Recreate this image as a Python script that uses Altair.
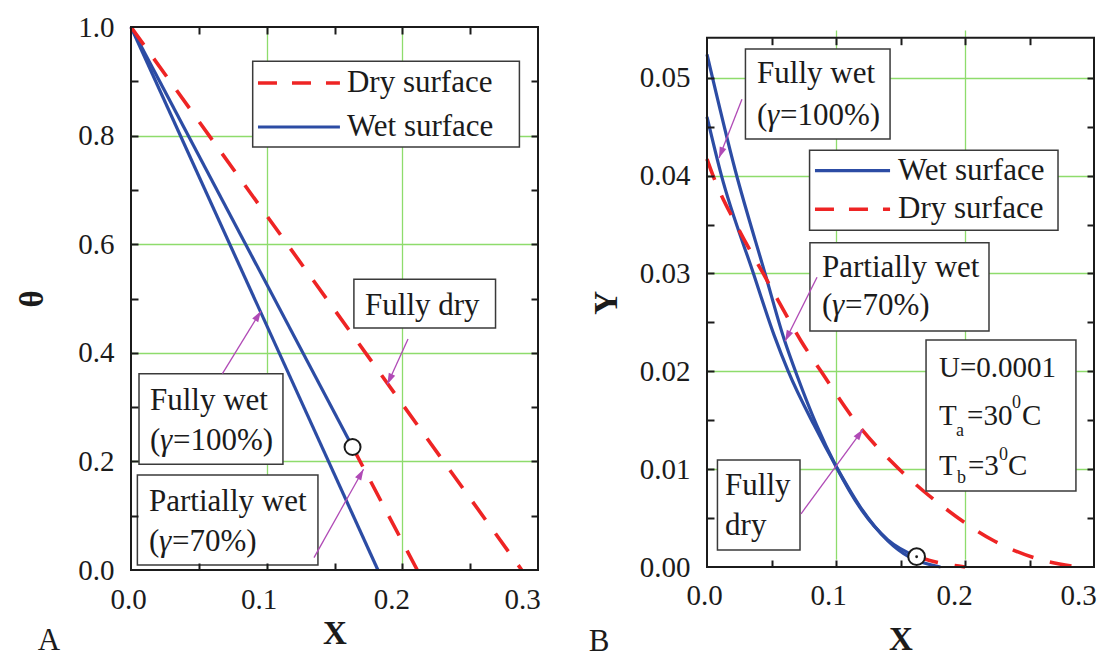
import math
import altair as alt
import pandas as pd

SERIF = "Liberation Serif"
INK = "#1b1b1b"
BLUE = "#2c4ca4"
RED = "#ee2424"
GREEN = "#8edc6c"
MAG = "#b04ab6"
BOX = "#3a3a3a"
HEAD = "M0,0L0.32,1L-0.32,1Z"

VIEW_W, VIEW_H = 963, 543

# ---------------- Panel A : theta vs X ----------------
A_wet_full_x = [0.0, 0.182]
A_wet_full_y = [1.0, 0.0]
A_wet_part_x = [0.0, 0.1633]
A_wet_part_y = [1.0, 0.2265]
A_dry_full_x = [0.0, 0.288]
A_dry_full_y = [1.0, 0.0]
A_dry_part_x = [0.1633, 0.211]
A_dry_part_y = [0.2265, 0.0]
A_mark_x = [0.1633]
A_mark_y = [0.2265]

A_x_labels = [0.0, 0.1, 0.2, 0.3]
A_y_labels = [0.0, 0.2, 0.4, 0.6, 0.8, 1.0]
A_x_grid = [0.1, 0.2]
A_y_grid = [0.2, 0.4, 0.6, 0.8]
A_x_ticks = [0.05, 0.1, 0.15, 0.2, 0.25]
A_y_ticks = [0.1, 0.2, 0.3, 0.4, 0.5, 0.6, 0.7, 0.8, 0.9]

A_box_x1 = [0.0897, 0.1643, 0.0059, 0.0047]
A_box_x2 = [0.2863, 0.2687, 0.1120, 0.1378]
A_box_y1 = [0.7790, 0.4457, 0.1947, 0.0092]
A_box_y2 = [0.9368, 0.5354, 0.3615, 0.1750]

A_text = ["Dry surface", "Wet surface", "Fully dry", "Fully wet", "Partially wet"]
A_text_x = [0.1592, 0.1592, 0.1725, 0.0140, 0.0133]
A_text_y = [0.8969, 0.8158, 0.4862, 0.3112, 0.1258]
# "(γ=...)" lines: gamma set in italics
A_gam_rest = ["=100%)", "=70%)"]
A_gam_x = [0.0140, 0.0133]
A_gam_y = [0.2376, 0.0521]

A_leg_x1 = [0.0936]
A_leg_x2 = [0.1540]
A_leg_dry_y = [0.8969]
A_leg_wet_y = [0.8158]

A_arrow_x0 = [0.2042, 0.0674, 0.1349]
A_arrow_y0 = [0.4254, 0.3615, 0.0227]
A_arrow_x1 = [0.1890, 0.0958, 0.1714]
A_arrow_y1 = [0.3420, 0.4770, 0.1855]

# ---------------- Panel B : Y vs X ----------------
B_wet_full_x = [0.0, 0.011, 0.036, 0.052, 0.063, 0.083, 0.100, 0.119, 0.140, 0.157, 0.181]
B_wet_full_y = [0.0460, 0.0401, 0.0300, 0.0237, 0.0200, 0.0145, 0.0103, 0.0061, 0.0027, 0.0010, 0.0]
B_wet_part_x = [0.0, 0.022, 0.045, 0.060, 0.070, 0.085, 0.100, 0.120, 0.140, 0.1625]
B_wet_part_y = [0.0524, 0.0405, 0.0300, 0.0232, 0.0195, 0.0145, 0.0103, 0.0058, 0.0028, 0.00105]
B_dry_full_x = [0.0, 0.0044, 0.0238, 0.044, 0.0553, 0.0729, 0.0884, 0.1168, 0.1478, 0.184,
                0.2227, 0.2535, 0.288]
B_dry_full_y = [0.0417, 0.0401, 0.0347, 0.0299, 0.0272, 0.0231, 0.0200, 0.01458, 0.01015,
                0.00606, 0.00266, 0.00095, 0.0]
B_dry_part_x = [0.1625, 0.172, 0.185, 0.200]
B_dry_part_y = [0.00105, 0.0007, 0.0003, 0.0]
B_mark_x = [0.1625]
B_mark_y = [0.00105]

B_x_labels = [0.0, 0.1, 0.2, 0.3]
B_y_labels = [0.0, 0.01, 0.02, 0.03, 0.04, 0.05]
B_x_grid = [0.1, 0.2]
B_y_grid = [0.01, 0.02, 0.03, 0.04, 0.05]
B_x_ticks = [0.05, 0.1, 0.15, 0.2, 0.25]
B_y_ticks = [0.005, 0.01, 0.015, 0.02, 0.025, 0.03, 0.035, 0.04, 0.045, 0.05]

B_box_x1 = [0.0298, 0.0795, 0.0798, 0.1698, 0.0081]
B_box_x2 = [0.1419, 0.2721, 0.2186, 0.2860, 0.0721]
B_box_y1 = [0.04375, 0.03442, 0.02411, 0.00776, 0.00174]
B_box_y2 = [0.05294, 0.04259, 0.03313, 0.02319, 0.01093]

B_text = ["Fully wet", "Wet surface", "Dry surface", "Partially wet", "Fully", "dry"]
B_text_x = [0.0388, 0.1481, 0.1481, 0.0891, 0.0140, 0.0140]
B_text_y = [0.05036, 0.04052, 0.03657, 0.03057, 0.00827, 0.00419]
B_gam_rest = ["=100%)", "=70%)"]
B_gam_x = [0.0388, 0.0891]
B_gam_y = [0.04607, 0.02666]

B_par_text = ["U=0.0001", "T", "=30", "C", "T", "=3", "C"]
B_par_x = [0.1798, 0.1798, 0.2016, 0.2442, 0.1798, 0.2023, 0.2333]
B_par_y = [0.02036, 0.01542, 0.01542, 0.01542, 0.01032, 0.01032, 0.01032]
B_sub_text = ["a", "0", "b", "0"]
B_sub_x = [0.1930, 0.2364, 0.1938, 0.2264]
B_sub_y = [0.01389, 0.01678, 0.00912, 0.01144]

B_leg_x1 = [0.0837]
B_leg_x2 = [0.1419]
B_leg_wet_y = [0.04052]
B_leg_dry_y = [0.03657]

B_arrow_x0 = [0.0271, 0.0853, 0.0729]
B_arrow_y0 = [0.0478, 0.02962, 0.00544]
B_arrow_x1 = [0.0093, 0.0605, 0.1209]
B_arrow_y1 = [0.0418, 0.02308, 0.01407]


def line_df(pairs):
    rows = []
    for name, xs_, ys_ in pairs:
        for i, (a, b) in enumerate(zip(xs_, ys_)):
            rows.append({"series": name, "i": i, "x": a, "y": b})
    return pd.DataFrame(rows)


def box_df(x1, x2, y1, y2):
    return pd.DataFrame({"x1": x1, "x2": x2, "y1": y1, "y2": y2})


def label_offset():
    return {"condition": [
        {"test": "datum.value > 0.25", "value": -16},
        {"test": "datum.value > 0.15", "value": -11},
        {"test": "datum.value > 0.05", "value": -8}],
        "value": -3}


def panel_layers(c):
    xdom, ydom, xr, yr = c["xdom"], c["ydom"], c["xrange"], c["yrange"]
    xs = alt.Scale(domain=xdom, range=xr, nice=False, zero=False)
    ys = alt.Scale(domain=ydom, range=yr, nice=False, zero=False)
    off_b = yr[0] - VIEW_H
    off_t = -yr[1]
    off_l = -xr[0]
    off_r = xr[1] - VIEW_W

    def ex(f, axis=None):
        return alt.X(f, type="quantitative", scale=xs, axis=axis)

    def ey(f, axis=None):
        return alt.Y(f, type="quantitative", scale=ys, axis=axis)

    def inward(orient, values, off):
        return alt.Axis(orient=orient, values=values, labels=False, domain=False,
                        grid=False, ticks=True, tickSize=7, tickWidth=2, tickColor=INK,
                        offset=off - 7, minExtent=0, title=None, zindex=1)

    ax_main_x = alt.Axis(orient="bottom", offset=off_b, values=c["x_labels"], format=".1f",
                         labelFont=SERIF, labelFontSize=29, labelColor=INK,
                         labelPadding=c["xlab_pad"], labelFlush=False, labelOverlap=False,
                         labelOffset=label_offset(),
                         ticks=False, tickSize=0, domain=False, grid=False,
                         title="X", titleFont=SERIF, titleFontSize=33, titleFontWeight="bold",
                         titleColor=INK, titleBaseline="middle", titleY=c["xtitle_y"])
    ax_main_y = alt.Axis(orient="left", offset=off_l, values=c["y_labels"], format=c["yfmt"],
                         labelFont=SERIF, labelFontSize=29, labelColor=INK,
                         labelPadding=17, labelOverlap=False,
                         ticks=False, tickSize=0, domain=False, grid=False,
                         title=c["ytitle"], titleFont=SERIF, titleFontSize=33,
                         titleFontWeight="bold", titleColor=INK, titleAngle=270,
                         titleBaseline="middle", titleX=c["ytitle_x"])
    ax_grid_x = alt.Axis(orient="bottom", values=c["x_grid"], grid=True, gridColor=GREEN,
                         gridWidth=1.3, labels=False, ticks=False, domain=False, title=None)
    ax_grid_y = alt.Axis(orient="left", values=c["y_grid"], grid=True, gridColor=GREEN,
                         gridWidth=1.3, labels=False, ticks=False, domain=False, title=None)

    wet = alt.Chart(c["wet"]).mark_line(color=BLUE, strokeWidth=3.2, interpolate=c["interp"]).encode(
        x=ex("x", ax_main_x), y=ey("y", ax_main_y), detail="series:N", order="i:Q")
    dry = alt.Chart(c["dry"]).mark_line(color=RED, strokeWidth=3.6, strokeDash=[22, 17],
                                        interpolate=c["interp"]).encode(
        x=ex("x", ax_grid_x), y=ey("y", ax_grid_y), detail="series:N", order="i:Q")

    boxes = alt.Chart(c["boxes"]).mark_rect(fill="white", stroke=BOX, strokeWidth=1.5).encode(
        x=ex("x1"), x2="x2:Q", y=ey("y1"), y2="y2:Q")

    leg_dry = alt.Chart(c["leg_dry"]).mark_rule(color=RED, strokeWidth=3.6, strokeDash=[19, 15]).encode(
        x=ex("x1"), x2="x2:Q", y=ey("y"))
    leg_wet = alt.Chart(c["leg_wet"]).mark_rule(color=BLUE, strokeWidth=3.2).encode(
        x=ex("x1"), x2="x2:Q", y=ey("y"))

    texts = alt.Chart(c["texts"]).mark_text(font=SERIF, fontSize=31, align="left",
                                           baseline="middle", color=INK).encode(
        x=ex("x"), y=ey("y"), text="t:N")

    gdf = c["gamma"]
    g_open = alt.Chart(gdf).mark_text(font=SERIF, fontSize=31, align="left", baseline="middle",
                                      color=INK, text="(").encode(x=ex("x"), y=ey("y"))
    g_sym = alt.Chart(gdf).mark_text(font=SERIF, fontSize=31, fontStyle="italic", align="left",
                                     baseline="middle", color=INK, text="γ", dx=10).encode(
        x=ex("x"), y=ey("y"))
    g_rest = alt.Chart(gdf).mark_text(font=SERIF, fontSize=31, align="left", baseline="middle",
                                      color=INK, dx=23).encode(x=ex("x"), y=ey("y"), text="t:N")

    sx = (xr[1] - xr[0]) / (xdom[1] - xdom[0])
    sy = (yr[0] - yr[1]) / (ydom[1] - ydom[0])
    adf = c["arrows"].copy()
    angs = []
    for a, b, cc, d in zip(adf["x0"], adf["y0"], adf["x1"], adf["y1"]):
        dx = (cc - a) * sx
        dy = -(d - b) * sy
        angs.append(math.degrees(math.atan2(dx, -dy)) % 360)
    adf["ang"] = angs
    arrows = alt.Chart(adf).mark_rule(color=MAG, strokeWidth=1.3).encode(
        x=ex("x0", inward("top", c["x_ticks"], off_t)),
        y=ey("y0", inward("right", c["y_ticks"], off_r)),
        x2="x1:Q", y2="y1:Q")
    heads = alt.Chart(adf).mark_point(shape=HEAD, filled=True, color=MAG, size=484, opacity=1).encode(
        x=ex("x1"), y=ey("y1"), angle=alt.Angle("ang:Q", scale=None))

    circ = alt.Chart(c["mark"]).mark_point(shape="circle", filled=True, fill="white", stroke=INK,
                                           strokeWidth=2, size=c["msize"], opacity=1).encode(
        x=ex("x", inward("bottom", c["x_ticks"], off_b)),
        y=ey("y", inward("left", c["y_ticks"], off_l)))

    frame = alt.Chart(pd.DataFrame({"x1": [xdom[0]], "x2": [xdom[1]], "y1": [ydom[0]],
                                    "y2": [ydom[1]]})).mark_rect(
        fill="white", fillOpacity=0, stroke=INK, strokeWidth=2).encode(
        x=ex("x1"), x2="x2:Q", y=ey("y1"), y2="y2:Q")

    layers = [wet, dry, boxes, leg_dry, leg_wet, texts, g_open, g_sym, g_rest,
              arrows, heads, circ]
    if c.get("extra"):
        layers += c["extra"](ex, ey)
    layers.append(frame)
    return layers


def extraB(ex, ey):
    par = alt.Chart(pd.DataFrame({"t": B_par_text, "x": B_par_x, "y": B_par_y})).mark_text(
        font=SERIF, fontSize=29, align="left", baseline="middle", color=INK).encode(
        x=ex("x"), y=ey("y"), text="t:N")
    sub = alt.Chart(pd.DataFrame({"t": B_sub_text, "x": B_sub_x, "y": B_sub_y})).mark_text(
        font=SERIF, fontSize=18, align="left", baseline="middle", color=INK).encode(
        x=ex("x"), y=ey("y"), text="t:N")
    dot = alt.Chart(pd.DataFrame({"x": B_mark_x, "y": B_mark_y})).mark_point(
        shape="circle", filled=True, color=INK, size=8, opacity=1).encode(x=ex("x"), y=ey("y"))
    return [par, sub, dot]


cfgA = dict(
    xdom=[0.0, 0.3], ydom=[0.0, 1.0], xrange=[0, 407], yrange=[543, 0],
    x_labels=A_x_labels, y_labels=A_y_labels, x_grid=A_x_grid, y_grid=A_y_grid,
    x_ticks=A_x_ticks, y_ticks=A_y_ticks, yfmt=".1f", ytitle="θ",
    xlab_pad=15, xtitle_y=63, ytitle_x=-99, interp="linear",
    wet=line_df([("full", A_wet_full_x, A_wet_full_y), ("part", A_wet_part_x, A_wet_part_y)]),
    dry=line_df([("full", A_dry_full_x, A_dry_full_y), ("part", A_dry_part_x, A_dry_part_y)]),
    boxes=box_df(A_box_x1, A_box_x2, A_box_y1, A_box_y2),
    leg_dry=pd.DataFrame({"x1": A_leg_x1, "x2": A_leg_x2, "y": A_leg_dry_y}),
    leg_wet=pd.DataFrame({"x1": A_leg_x1, "x2": A_leg_x2, "y": A_leg_wet_y}),
    texts=pd.DataFrame({"t": A_text, "x": A_text_x, "y": A_text_y}),
    gamma=pd.DataFrame({"t": A_gam_rest, "x": A_gam_x, "y": A_gam_y}),
    arrows=pd.DataFrame({"x0": A_arrow_x0, "y0": A_arrow_y0, "x1": A_arrow_x1, "y1": A_arrow_y1}),
    mark=pd.DataFrame({"x": A_mark_x, "y": A_mark_y}), msize=256,
)

cfgB = dict(
    xdom=[0.0, 0.3], ydom=[0.0, 0.0541], xrange=[576, 963], yrange=[540, 10.7],
    x_labels=B_x_labels, y_labels=B_y_labels, x_grid=B_x_grid, y_grid=B_y_grid,
    x_ticks=B_x_ticks, y_ticks=B_y_ticks, yfmt=".2f", ytitle="Y",
    xlab_pad=14, xtitle_y=72, ytitle_x=-101, interp="monotone",
    wet=line_df([("full", B_wet_full_x, B_wet_full_y), ("part", B_wet_part_x, B_wet_part_y)]),
    dry=line_df([("full", B_dry_full_x, B_dry_full_y), ("part", B_dry_part_x, B_dry_part_y)]),
    boxes=box_df(B_box_x1, B_box_x2, B_box_y1, B_box_y2),
    leg_dry=pd.DataFrame({"x1": B_leg_x1, "x2": B_leg_x2, "y": B_leg_dry_y}),
    leg_wet=pd.DataFrame({"x1": B_leg_x1, "x2": B_leg_x2, "y": B_leg_wet_y}),
    texts=pd.DataFrame({"t": B_text, "x": B_text_x, "y": B_text_y}),
    gamma=pd.DataFrame({"t": B_gam_rest, "x": B_gam_x, "y": B_gam_y}),
    arrows=pd.DataFrame({"x0": B_arrow_x0, "y0": B_arrow_y0, "x1": B_arrow_x1, "y1": B_arrow_y1}),
    mark=pd.DataFrame({"x": B_mark_x, "y": B_mark_y}), msize=280,
    extra=extraB,
)

one = pd.DataFrame({"k": [0]})
spacer = alt.Chart(one).mark_rule(color="white", strokeWidth=1).encode(
    x=alt.value(-125), x2=alt.value(900), y=alt.value(-21))
letter_a = alt.Chart(one).mark_text(font=SERIF, fontSize=31, color=INK, align="center",
                                    baseline="middle", text="A").encode(
    x=alt.value(-82), y=alt.value(614))
letter_b = alt.Chart(one).mark_text(font=SERIF, fontSize=31, color=INK, align="center",
                                    baseline="middle", text="B").encode(
    x=alt.value(468), y=alt.value(615))

all_layers = panel_layers(cfgA) + panel_layers(cfgB) + [spacer, letter_a, letter_b]

chart = alt.layer(*all_layers).resolve_scale(
    x="independent", y="independent"
).resolve_axis(
    x="independent", y="independent"
).properties(
    width=VIEW_W, height=VIEW_H,
    padding={"left": 5, "top": 5, "right": 0, "bottom": 0}, background="white"
).configure_view(stroke="transparent")

chart.save("out.html", embed_options={"renderer": "svg", "actions": False})
